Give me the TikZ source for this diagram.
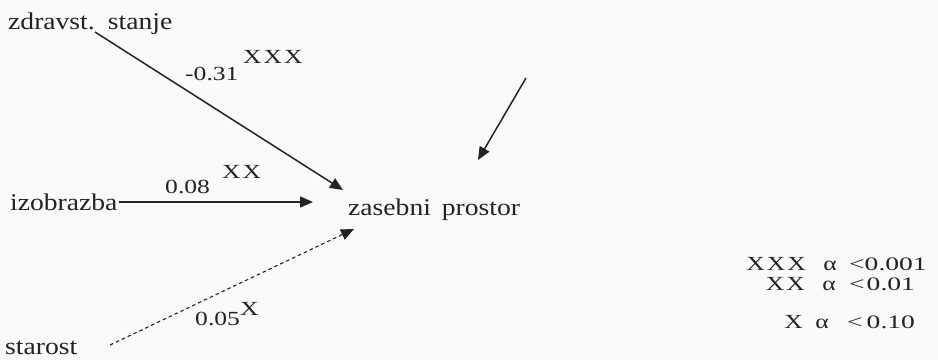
\documentclass[tikz,border=0pt]{standalone}
\usepackage{fontspec}
\setmainfont{Liberation Serif}
\newfontfamily\mainf[FakeStretch=1.15]{Liberation Serif}
\newfontfamily\labf[FakeStretch=1.28]{Liberation Serif}
\newfontfamily\legf[FakeStretch=1.45]{Liberation Serif}
\usetikzlibrary{arrows.meta}
\definecolor{ink}{RGB}{35,35,35}
\definecolor{paper}{RGB}{250,250,250}
\tikzset{
  mainlbl/.style={inner sep=0pt, anchor=base west, text=ink, font=\mainf\fontsize{24}{28}\selectfont},
  coef/.style={inner sep=0pt, anchor=base west, text=ink, font=\labf\fontsize{20}{24}\selectfont},
  legx/.style={inner sep=0pt, anchor=base east, text=ink, font=\labf\fontsize{20}{24}\selectfont},
  legv/.style={inner sep=0pt, anchor=base west, text=ink, font=\legf\fontsize{19}{23}\selectfont},
  arr/.style={draw=ink, line width=1.5pt, -{Triangle[length=13pt,width=11pt]}},
  darr/.style={arr, line width=1.1pt, dash pattern=on 3.5pt off 3pt}
}
\begin{document}
\begin{tikzpicture}[x=1pt,y=-1pt]
\fill[paper] (0,0) rectangle (938,360);
\useasboundingbox (0,0) rectangle (938,360);
% nodes
\node[mainlbl] (zs) at (8,29) {zdravst.\hspace{4pt} stanje};
\node[mainlbl] (iz) at (10,210) {izobrazba};
\node[mainlbl] (st) at (5,354) {starost};
\node[mainlbl] (zp) at (348,215) {zasebni\hspace{4pt} prostor};
% coefficient labels
\node[coef] (c1) at (185,80) {-0.31};
\node[coef] (s1) at (243,63) {X\hspace{2pt}X\hspace{2pt}X};
\node[coef] (c2) at (165,193) {0.08};
\node[coef] (s2) at (222,178) {X\hspace{2pt}X};
\node[coef] (c3) at (195,325) {0.05};
\node[coef] (s3) at (240,315) {X};
% connector end points
\coordinate (a1) at (95,32);
\coordinate (t1) at (343,190);
\coordinate (a2) at (119,202);
\coordinate (t2) at (313,202);
\coordinate (a3) at (110,345);
\coordinate (t3) at (354,229);
\coordinate (a4) at (526,78);
\coordinate (t4) at (478,160);
% connectors
\draw[arr] (a1) -- (t1);
\draw[arr] (a2) -- (t2);
\draw[darr] (a3) -- (t3);
\draw[arr] (a4) -- (t4);
% legend
\node[legx] (l1x) at (806,270) {X\hspace{2pt}X\hspace{2pt}X};
\node[legx] (l1a) at (837,270) {α};
\node[legv] (l1v) at (849,270) {<0.001};
\node[legx] (l2x) at (805,290) {X\hspace{2pt}X};
\node[legx] (l2a) at (836,290) {α};
\node[legv] (l2v) at (849,290) {<\hspace{2pt}0.01};
\node[legx] (l3x) at (803,328) {X};
\node[legx] (l3a) at (829,328) {α};
\node[legv] (l3v) at (847,328) {<\hspace{4pt}0.10};
\end{tikzpicture}
\end{document}
